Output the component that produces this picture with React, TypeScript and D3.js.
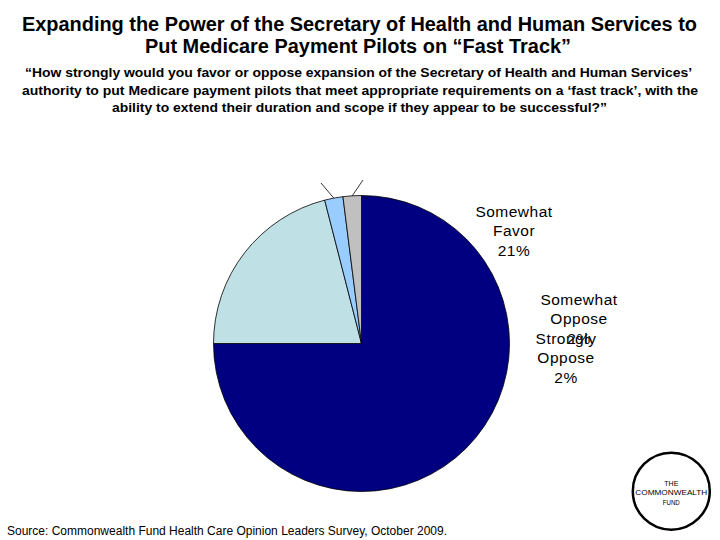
import * as d3 from "d3";
import React, { useEffect, useRef } from "react";

const W = 720;
const H = 540;

const categories = ["Strongly Favor", "Somewhat Favor", "Somewhat Oppose", "Strongly Oppose"];
const shares = [75, 21, 2, 2];
const sliceColors = ["#000080", "#bfe1e5", "#99ccff", "#c0c0c0"];

const titleLines = [
    "Expanding the Power of the Secretary of Health and Human Services to",
    "Put Medicare Payment Pilots on \u201cFast Track\u201d",
];
const questionLines = [
    "\u201cHow strongly would you favor or oppose expansion of the Secretary of Health and Human Services\u2019",
    "authority to put Medicare payment pilots that meet appropriate requirements on a \u2018fast track\u2019, with the",
    "ability to extend their duration and scope if they appear to be successful?\u201d",
];
const sourceText = "Source: Commonwealth Fund Health Care Opinion Leaders Survey, October 2009.";

// label placement (only the three smaller slices carry a label)
const labelSpots: { [k: string]: { x: number; y: number } } = {
    "Somewhat Favor": { x: 514, y: 217 },
    "Somewhat Oppose": { x: 579, y: 305 },
    "Strongly Oppose": { x: 566, y: 344 },
};
const leaderEnds: { [k: string]: { x: number; y: number } } = {
    "Somewhat Oppose": { x: 321, y: 183 },
    "Strongly Oppose": { x: 363, y: 180 },
};

const cx = 361.5;
const cy = 343.5;
const R = 148;

export default function App() {
    const svgRef = useRef<SVGSVGElement | null>(null);

    useEffect(() => {
        if (!svgRef.current) return;
        const svg = d3.select(svgRef.current);
        svg.selectAll("*").remove();

        svg.append("rect").attr("width", W).attr("height", H).attr("fill", "#fff");

        /* ---------- titles ---------- */
        const titleSpans = [
            { x1: 22, x2: 697, y: 31 },
            { x1: 145, x2: 571, y: 53 },
        ];
        titleLines.forEach((t, i) => {
            const s = titleSpans[i];
            svg.append("text")
                .attr("x", s.x1)
                .attr("y", s.y)
                .attr("font-family", "'Liberation Sans', Arial, sans-serif")
                .attr("font-weight", "bold")
                .attr("font-size", "20px")
                .attr("textLength", s.x2 - s.x1)
                .attr("lengthAdjust", "spacingAndGlyphs")
                .text(t);
        });

        const qSpans = [
            { x1: 25, x2: 692, y: 77 },
            { x1: 22, x2: 698, y: 94.5 },
            { x1: 112, x2: 607, y: 111.5 },
        ];
        questionLines.forEach((t, i) => {
            const s = qSpans[i];
            svg.append("text")
                .attr("x", s.x1)
                .attr("y", s.y)
                .attr("font-family", "'Liberation Sans', Arial, sans-serif")
                .attr("font-weight", "bold")
                .attr("font-size", "12.5px")
                .attr("textLength", s.x2 - s.x1)
                .attr("lengthAdjust", "spacingAndGlyphs")
                .text(t);
        });

        /* ---------- pie ---------- */
        const pie = d3.pie<number>().sort(null).value((d) => d);
        const arcs = pie(shares);
        const arc = d3.arc<d3.PieArcDatum<number>>().innerRadius(0).outerRadius(R);

        const g = svg.append("g").attr("transform", `translate(${cx},${cy})`);
        g.selectAll("path")
            .data(arcs)
            .join("path")
            .attr("d", arc)
            .attr("fill", (_, i) => sliceColors[i])
            .attr("stroke", "#000")
            .attr("stroke-width", 0.8);

        /* ---------- leader lines ---------- */
        arcs.forEach((a, i) => {
            const end = leaderEnds[categories[i]];
            if (!end) return;
            const mid = (a.startAngle + a.endAngle) / 2;
            const x0 = cx + R * Math.sin(mid);
            const y0 = cy - R * Math.cos(mid);
            svg.append("line")
                .attr("x1", x0)
                .attr("y1", y0)
                .attr("x2", end.x)
                .attr("y2", end.y)
                .attr("stroke", "#000")
                .attr("stroke-width", 0.8);
        });

        /* ---------- labels ---------- */
        categories.forEach((c, i) => {
            const p = labelSpots[c];
            if (!p) return;
            const words = c.split(" ").concat([`${shares[i]}%`]);
            const t = svg.append("text")
                .attr("text-anchor", "middle")
                .attr("font-family", "'Liberation Sans', Arial, sans-serif")
                .attr("font-size", "15.5px")
                .attr("letter-spacing", "0.5px")
                .attr("fill", "#000");
            words.forEach((w, k) => {
                t.append("tspan").attr("x", p.x).attr("y", p.y + k * 19.4).text(w);
            });
        });

        /* ---------- source ---------- */
        svg.append("text")
            .attr("x", 7)
            .attr("y", 535)
            .attr("font-family", "'Liberation Sans', Arial, sans-serif")
            .attr("font-size", "12.5px")
            .attr("textLength", 440)
            .attr("lengthAdjust", "spacingAndGlyphs")
            .text(sourceText);

        /* ---------- logo ---------- */
        const logo = svg.append("g").attr("transform", "translate(671.3,491.2)");
        logo.append("circle").attr("r", 38.5).attr("fill", "#fff").attr("stroke", "#000").attr("stroke-width", 2.5);
        const logoLines = [
            { t: "THE", y: -5.5, w: 14 },
            { t: "COMMONWEALTH", y: 4, w: 72 },
            { t: "FUND", y: 14, w: 17 },
        ];
        logoLines.forEach((l) => {
            logo.append("text")
                .attr("x", -l.w / 2)
                .attr("y", l.y)
                .attr("font-family", "'Liberation Sans', Arial, sans-serif")
                .attr("font-size", "7.5px")
                .attr("textLength", l.w)
                .attr("lengthAdjust", "spacingAndGlyphs")
                .text(l.t);
        });
    }, []);

    return (
        <svg
            ref={svgRef}
            width={W}
            height={H}
            viewBox={`0 0 ${W} ${H}`}
            style={{ position: "absolute", left: 0, top: 0 }}
        />
    );
}
